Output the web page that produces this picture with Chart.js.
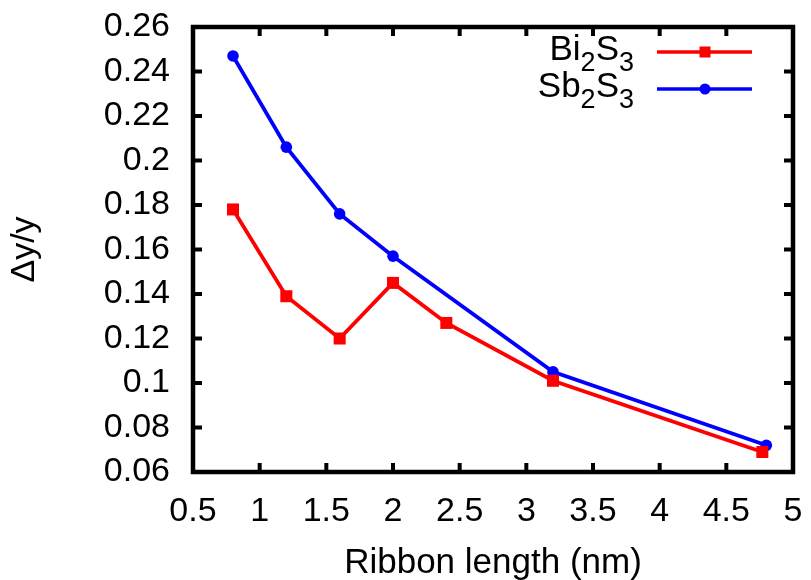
<!DOCTYPE html>
<html>
<head>
<meta charset="utf-8">
<script src="https://cdn.jsdelivr.net/npm/chart.js@4.4.1/dist/chart.umd.min.js"></script>
<style>
  html, body { margin: 0; padding: 0; background: #fff; }
  #wrap { width: 811px; height: 580px; }
</style>
</head>
<body>
<div id="wrap"><canvas id="chart" width="811" height="580"></canvas></div>
<script>
// ribbon lengths (nm) and relative change for each material
const lengthBi = [0.8, 1.2, 1.6, 2.0, 2.4, 3.2, 4.77];
const valuesBi = [0.178, 0.139, 0.12, 0.145, 0.127, 0.101, 0.069];
const lengthSb = [0.8, 1.2, 1.6, 2.0, 3.2, 4.8];
const valuesSb = [0.247, 0.206, 0.176, 0.157, 0.105, 0.072];

const xTicks = [0.5, 1, 1.5, 2, 2.5, 3, 3.5, 4, 4.5, 5];
const yTicks = [0.06, 0.08, 0.1, 0.12, 0.14, 0.16, 0.18, 0.2, 0.22, 0.24, 0.26];

const FONT = 'Liberation Sans, Arial, Helvetica, sans-serif';

function fmt(v) {
    return String(Math.round(v * 100) / 100);
}

// gnuplot-style box with inward ticks on every side
const framePlugin = {
    id: 'frame',
    afterDatasetsDraw(chart) {
        const ctx = chart.ctx;
        const a = chart.chartArea;
        const xs = chart.scales.x;
        const ys = chart.scales.y;
        const tl = 9;
        ctx.save();
        ctx.strokeStyle = '#000';
        ctx.lineWidth = 4;
        ctx.lineCap = 'butt';
        ctx.beginPath();
        xTicks.forEach(t => {
            const px = xs.getPixelForValue(t);
            ctx.moveTo(px, a.bottom);
            ctx.lineTo(px, a.bottom - tl);
            ctx.moveTo(px, a.top);
            ctx.lineTo(px, a.top + tl);
        });
        yTicks.forEach(t => {
            const py = ys.getPixelForValue(t);
            ctx.moveTo(a.left, py);
            ctx.lineTo(a.left + tl, py);
            ctx.moveTo(a.right, py);
            ctx.lineTo(a.right - tl, py);
        });
        ctx.stroke();
        ctx.lineWidth = 4.5;
        ctx.lineJoin = 'miter';
        ctx.strokeRect(a.left, a.top, a.right - a.left, a.bottom - a.top);
        ctx.restore();
    }
};

// legend with subscripted chemical formulas
const legendPlugin = {
    id: 'formulaLegend',
    afterDraw(chart) {
        const ctx = chart.ctx;
        const entries = [
            { parts: [['Bi', 0], ['2', 1], ['S', 0], ['3', 1]], color: '#ff0000', style: 'rect', y: 52 },
            { parts: [['Sb', 0], ['2', 1], ['S', 0], ['3', 1]], color: '#0000ff', style: 'circle', y: 89 }
        ];
        const mainFont = '35px ' + FONT;
        const subFont = '27px ' + FONT;
        const textRight = 634;
        ctx.save();
        entries.forEach(e => {
            let w = 0;
            e.parts.forEach(p => {
                ctx.font = p[1] ? subFont : mainFont;
                w += ctx.measureText(p[0]).width;
            });
            let x = textRight - w;
            const base = e.y + 8;
            ctx.fillStyle = '#000';
            ctx.textBaseline = 'alphabetic';
            ctx.textAlign = 'left';
            e.parts.forEach(p => {
                ctx.font = p[1] ? subFont : mainFont;
                ctx.fillText(p[0], x, p[1] ? base + 11 : base);
                x += ctx.measureText(p[0]).width;
            });
            ctx.strokeStyle = e.color;
            ctx.lineWidth = 3.5;
            ctx.beginPath();
            ctx.moveTo(657, e.y);
            ctx.lineTo(752, e.y);
            ctx.stroke();
            ctx.fillStyle = e.color;
            if (e.style === 'rect') {
                ctx.fillRect(705 - 5.5, e.y - 5.5, 11, 11);
            } else {
                ctx.beginPath();
                ctx.arc(705, e.y, 5.5, 0, Math.PI * 2);
                ctx.fill();
            }
        });
        ctx.restore();
    }
};

const ctx = document.getElementById('chart').getContext('2d');
new Chart(ctx, {
    type: 'line',
    data: {
        datasets: [
            {
                label: 'Bi2S3',
                data: lengthBi.map((x, i) => ({ x: x, y: valuesBi[i] })),
                borderColor: '#ff0000',
                backgroundColor: '#ff0000',
                borderWidth: 3.8,
                pointStyle: 'rect',
                pointRadius: 8.5,
                pointBorderWidth: 0,
                tension: 0
            },
            {
                label: 'Sb2S3',
                data: lengthSb.map((x, i) => ({ x: x, y: valuesSb[i] })),
                borderColor: '#0000ff',
                backgroundColor: '#0000ff',
                borderWidth: 3.8,
                pointStyle: 'circle',
                pointRadius: 5.8,
                pointBorderWidth: 0,
                tension: 0
            }
        ]
    },
    options: {
        responsive: false,
        animation: false,
        layout: { padding: { left: 0, top: 27, right: 18, bottom: 0 } },
        plugins: {
            legend: { display: false },
            tooltip: { enabled: false }
        },
        scales: {
            x: {
                type: 'linear',
                min: 0.5,
                max: 5,
                afterFit: scale => {
                    scale.height = 108;
                    scale.paddingLeft = 0;
                    scale.paddingRight = 0;
                },
                afterBuildTicks: scale => { scale.ticks = xTicks.map(v => ({ value: v })); },
                grid: { display: false, drawTicks: false },
                border: { display: false },
                ticks: {
                    padding: 19,
                    color: '#000',
                    font: { family: FONT, size: 34 },
                    maxRotation: 0,
                    autoSkip: false,
                    callback: v => fmt(v)
                },
                title: {
                    display: true,
                    text: 'Ribbon length (nm)',
                    color: '#000',
                    font: { family: FONT, size: 35 },
                    padding: { top: 0, bottom: -4 }
                }
            },
            y: {
                type: 'linear',
                min: 0.06,
                max: 0.26,
                afterFit: scale => {
                    scale.width = 193;
                    scale.paddingTop = 0;
                    scale.paddingBottom = 0;
                },
                afterBuildTicks: scale => { scale.ticks = yTicks.map(v => ({ value: v })); },
                grid: { display: false, drawTicks: false },
                border: { display: false },
                ticks: {
                    padding: 23,
                    color: '#000',
                    font: { family: FONT, size: 34 },
                    autoSkip: false,
                    callback: v => fmt(v)
                },
                title: {
                    display: true,
                    text: 'Δy/y',
                    color: '#000',
                    font: { family: FONT, size: 34 },
                    padding: { top: 4, bottom: 0 }
                }
            }
        }
    },
    plugins: [framePlugin, legendPlugin]
});
</script>
</body>
</html>
